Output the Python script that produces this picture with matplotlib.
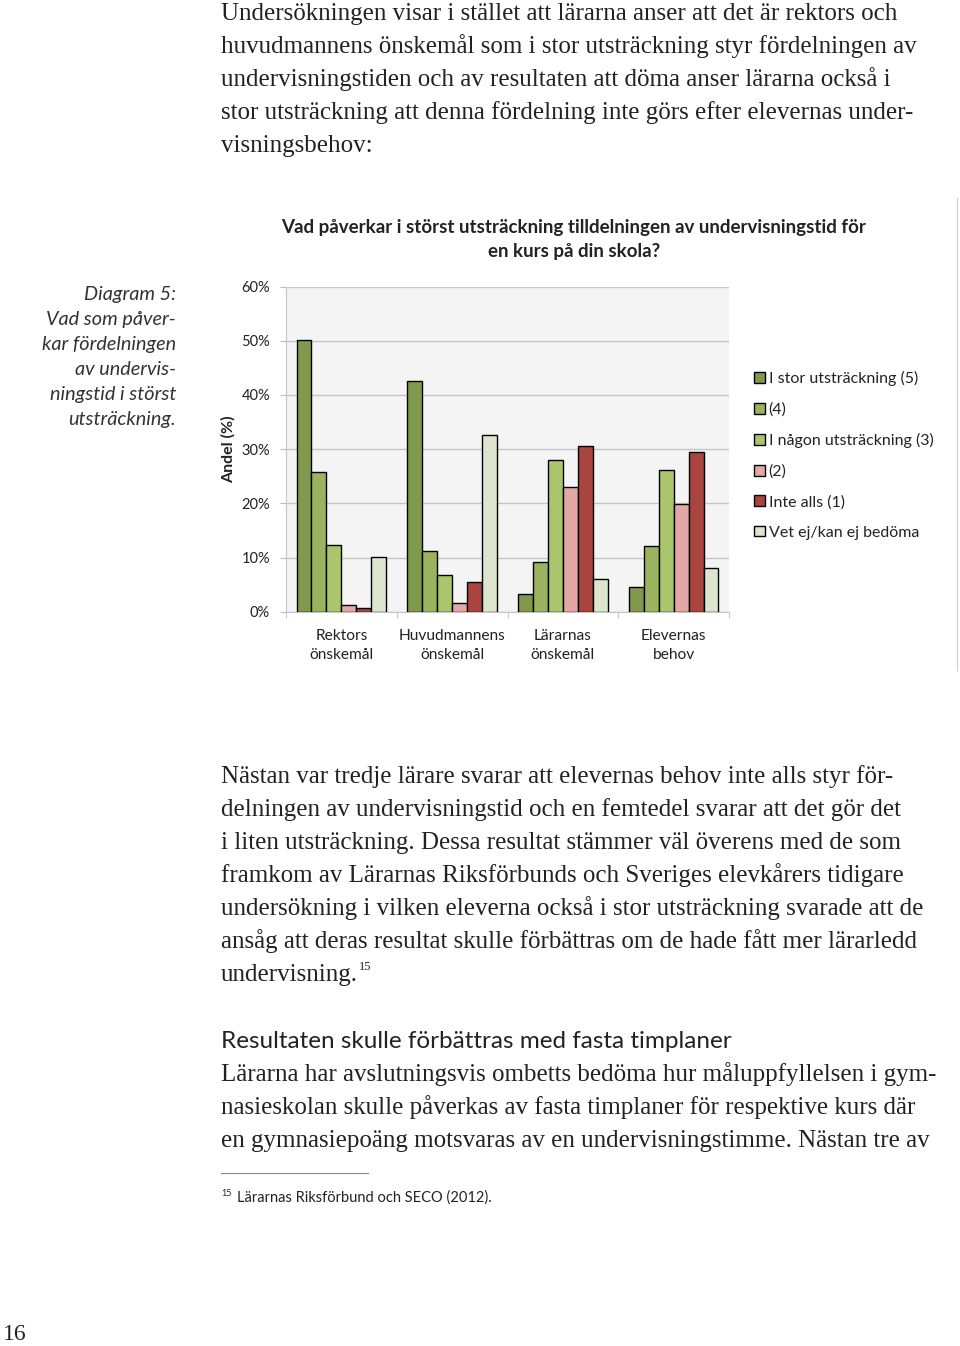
import matplotlib
matplotlib.use('Agg')
import matplotlib.pyplot as plt
import numpy as np

# kategorier och serier (andel i procent)
categories = ['Rektors\nönskemål', 'Huvudmannens\nönskemål', 'Lärarnas\nönskemål', 'Elevernas\nbehov']
series_names = ['I stor utsträckning (5)', '(4)', 'I någon utsträckning (3)', '(2)', 'Inte alls (1)', 'Vet ej/kan ej bedöma']
s5 = [50.2, 42.5, 3.3, 4.7]
s4 = [25.8, 11.2, 9.3, 12.2]
s3 = [12.4, 6.8, 28.0, 26.2]
s2 = [1.3, 1.7, 23.0, 19.9]
s1 = [0.7, 5.5, 30.6, 29.5]
s0 = [10.1, 32.6, 6.1, 8.2]
yticks = [0, 10, 20, 30, 40, 50, 60]

colors = ['#7f9a4c', '#9bb35e', '#abc56c', '#e3a7a5', '#a9443f', '#dde5cf']

W, H = 960, 1346
def fx(x): return x / W
def fy(y): return 1 - y / H

SERIF = ['Liberation Serif', 'DejaVu Serif']
SANS = ['Lato', 'DejaVu Sans']
TXT = '#222222'

fig = plt.figure(figsize=(9.6, 13.46), dpi=100)

# brödtext
para1 = ['Undersökningen visar i stället att lärarna anser att det är rektors och',
         'huvudmannens önskemål som i stor utsträckning styr fördelningen av',
         'undervisningstiden och av resultaten att döma anser lärarna också i',
         'stor utsträckning att denna fördelning inte görs efter elevernas under-',
         'visningsbehov:']
for i, line in enumerate(para1):
    fig.text(fx(221), fy(20 + 33 * i), line, family=SERIF, fontsize=18, color=TXT, va='baseline')

para2 = ['Nästan var tredje lärare svarar att elevernas behov inte alls styr för-',
         'delningen av undervisningstid och en femtedel svarar att det gör det',
         'i liten utsträckning. Dessa resultat stämmer väl överens med de som',
         'framkom av Lärarnas Riksförbunds och Sveriges elevkårers tidigare',
         'undersökning i vilken eleverna också i stor utsträckning svarade att de',
         'ansåg att deras resultat skulle förbättras om de hade fått mer lärarledd',
         'undervisning.']
for i, line in enumerate(para2):
    t = fig.text(fx(221), fy(783 + 33 * i), line, family=SERIF, fontsize=18, color=TXT, va='baseline')
last_line = t

fig.text(fx(221), fy(1048), 'Resultaten skulle förbättras med fasta timplaner', family=SANS,
         fontsize=17.5, color=TXT, va='baseline')
para3 = ['Lärarna har avslutningsvis ombetts bedöma hur måluppfyllelsen i gym-',
         'nasieskolan skulle påverkas av fasta timplaner för respektive kurs där',
         'en gymnasiepoäng motsvaras av en undervisningstimme. Nästan tre av']
for i, line in enumerate(para3):
    fig.text(fx(221), fy(1081 + 33 * i), line, family=SERIF, fontsize=18, color=TXT, va='baseline')

fig.add_artist(plt.Line2D([fx(221), fx(368)], [fy(1173), fy(1173)], color='#888888', lw=0.8))
fig.text(fx(221), fy(1196), '15', family=SANS, fontsize=6.5, color=TXT, va='baseline')
fig.text(fx(237), fy(1202), 'Lärarnas Riksförbund och SECO (2012).', family=SANS, fontsize=10.5, color=TXT, va='baseline')
fig.text(fx(3), fy(1340), '16', family=SERIF, fontsize=17, color=TXT, va='baseline')

# bildtext till vänster
caption = ['Diagram 5:', 'Vad som påver-', 'kar fördelningen', 'av undervis-', 'ningstid i störst', 'utsträckning.']
for i, line in enumerate(caption):
    fig.text(fx(176), fy(300 + 25 * i), line, family=SANS, style='italic', fontsize=14.3,
             color='#333333', ha='right', va='baseline')

# tunn linje vid högerkanten
fig.add_artist(plt.Line2D([fx(957), fx(957)], [fy(198), fy(670)], color='#cccccc', lw=0.8))

# diagrammet
ax = fig.add_axes([fx(286), fy(612), fx(729) - fx(286), fy(286.5) - fy(612)])
ax.set_facecolor('#f4f4f4')
values = [s5, s4, s3, s2, s1, s0]
x = np.arange(len(categories))
w = 0.135
for i, vals in enumerate(values):
    ax.bar(x + (i - 2.5) * w, vals, w, color=colors[i], edgecolor='black', linewidth=1.0,
           label=series_names[i], zorder=3)

ax.set_xlim(-0.5, 3.5)
ax.set_ylim(0, 60)
ax.set_yticks(yticks)
ax.set_yticklabels([f'{v}%' for v in yticks], family=SANS, fontsize=10.5, color=TXT)
ax.grid(axis='y', color='#c6c6c6', lw=1.0, zorder=0)
ax.set_xticks(x)
ax.set_xticklabels(categories, family=SANS, fontsize=11.2, color=TXT, linespacing=1.5)
ax.set_xticks(np.arange(-0.5, 4, 1), minor=True)
ax.tick_params(axis='x', which='major', length=0, pad=12)
ax.tick_params(axis='x', which='minor', length=4, color='#bbbbbb')
ax.tick_params(axis='y', length=4, color='#bbbbbb', pad=7.5)
for s in ['top', 'right']:
    ax.spines[s].set_visible(False)
ax.spines['left'].set_color('#c6c6c6')
ax.spines['bottom'].set_color('#c6c6c6')
ax.set_ylabel('Andel (%)', family=SANS, fontsize=11.5, fontweight='bold', color=TXT)
ax.yaxis.set_label_coords(-0.113, 0.5)

# fotnotsnummer efter sista raden
ax.annotate('15', xy=(1, 1), xycoords=last_line, xytext=(1, 2), textcoords='offset points',
            family=SERIF, fontsize=9, color=TXT, va='top', annotation_clip=False)

fig.text(fx(574), fy(228), 'Vad påverkar i störst utsträckning tilldelningen av undervisningstid för',
         family=SANS, fontsize=13.5, fontweight='bold', color=TXT, ha='center', va='center')
fig.text(fx(574), fy(251), 'en kurs på din skola?',
         family=SANS, fontsize=13.5, fontweight='bold', color=TXT, ha='center', va='center')

leg = ax.legend(loc='upper left', bbox_to_anchor=(fx(754), fy(371)), bbox_transform=fig.transFigure,
                frameon=False, prop={'family': SANS, 'size': 11.5}, handlelength=0.67, handleheight=0.67,
                handletextpad=0.25, labelspacing=1.02, borderpad=0, borderaxespad=0)
for t in leg.get_texts():
    t.set_color(TXT)

fig.savefig('out.png', dpi=100)
